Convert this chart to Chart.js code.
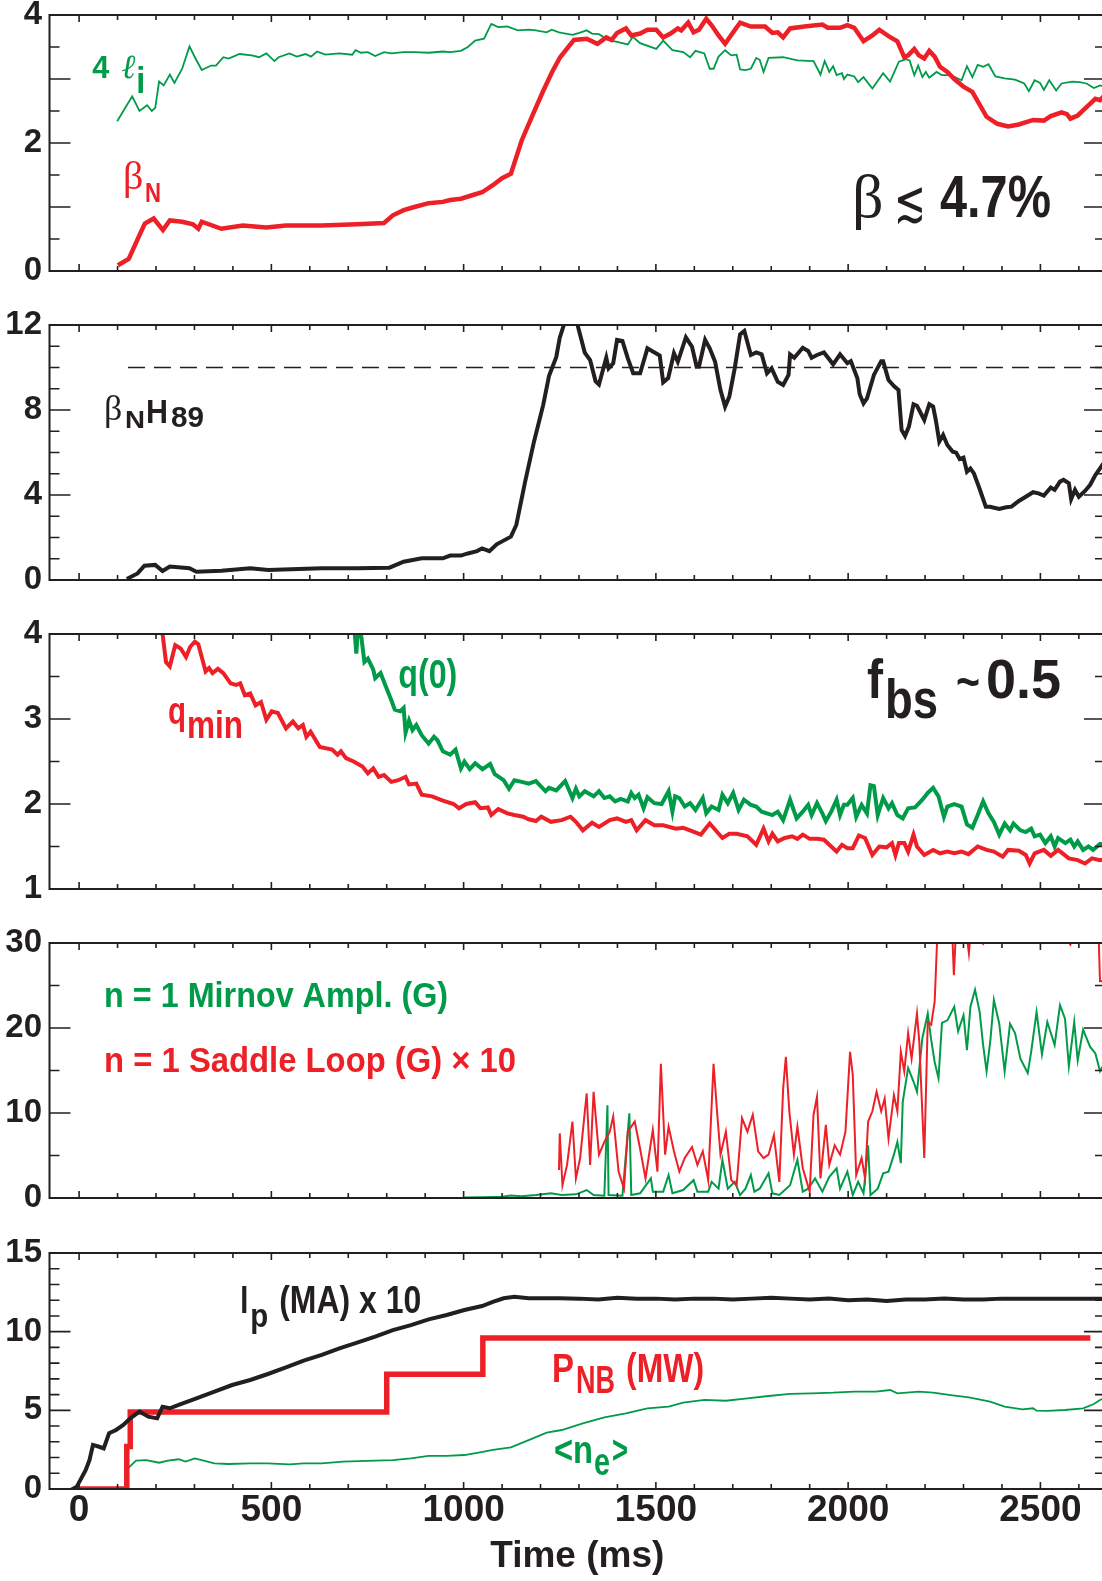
<!DOCTYPE html>
<html>
<head>
<meta charset="utf-8">
<script src="https://cdn.jsdelivr.net/npm/chart.js@4.4.0/dist/chart.umd.min.js"></script>
<style>
html, body { margin: 0; padding: 0; background: #fff; overflow: hidden; }
#wrap { position: relative; width: 1102px; height: 1581px; overflow: hidden; }
#wrap canvas { position: absolute; left: 0; }
</style>
</head>
<body>
<div id="wrap">
  <canvas id="p1" width="1110" height="308" style="top:-11px"></canvas>
  <canvas id="p2" width="1110" height="307" style="top:299px"></canvas>
  <canvas id="p3" width="1110" height="307" style="top:608px"></canvas>
  <canvas id="p4" width="1110" height="307" style="top:917px"></canvas>
  <canvas id="p5" width="1110" height="354" style="top:1227px"></canvas>
</div>
<script>
// time axis (ms)
const XMIN = -77, XMAX = 2668;
const XTICKS = [0, 500, 1000, 1500, 2000, 2500];

// Panel 1: 4 li and beta_N
const li4T = [99,138,157,177,189,198,208,220,236,248,268,287,301,319,343,356,375,389,417,449,468,487,508,519,547,566,589,603,619,640,677,710,719,733,751,770,793,812,844,872,909,946,965,993,1011,1030,1053,1072,1090,1113,1141,1169,1188,1216,1229,1248,1255,1283,1301,1320,1334,1352,1375,1399,1427,1440,1459,1501,1519,1543,1571,1589,1603,1626,1640,1650,1663,1680,1696,1710,1719,1733,1747,1761,1770,1780,1793,1831,1868,1910,1928,1939,1951,1961,1970,1984,1989,1998,2016,2026,2040,2063,2091,2109,2132,2151,2160,2172,2182,2193,2202,2211,2230,2244,2267,2295,2309,2323,2337,2351,2365,2383,2407,2434,2458,2470,2485,2499,2509,2523,2541,2555,2583,2602,2620,2639,2655,2668];
const li4V = [2.34,2.73,2.5,2.59,2.5,2.55,2.96,2.9,3.07,2.94,3.16,3.51,3.34,3.14,3.21,3.21,3.34,3.32,3.39,3.37,3.34,3.4,3.28,3.34,3.4,3.35,3.39,3.35,3.43,3.38,3.4,3.38,3.45,3.41,3.42,3.36,3.42,3.4,3.42,3.42,3.41,3.43,3.42,3.44,3.5,3.6,3.63,3.86,3.81,3.82,3.76,3.77,3.76,3.73,3.77,3.73,3.72,3.69,3.72,3.76,3.71,3.70,3.61,3.58,3.54,3.66,3.56,3.47,3.6,3.45,3.42,3.34,3.44,3.4,3.16,3.16,3.35,3.45,3.37,3.38,3.15,3.14,3.16,3.33,3.3,3.11,3.33,3.34,3.29,3.28,3.07,3.28,3.11,3.2,3.06,3.09,3.0,3.07,3.04,2.95,3.03,2.85,3.09,2.96,3.27,3.31,3.29,3.06,3.21,3.03,3.11,3.02,3.11,3.06,3.06,2.98,3.2,3.03,3.22,3.19,3.23,3.04,3.01,2.99,2.93,2.81,2.98,2.94,2.83,2.98,2.82,2.93,2.96,2.95,2.93,2.86,2.9,2.88];
const betaNT = [101,129,157,171,194,218,236,268,296,310,319,370,426,487,538,631,723,793,816,844,872,909,946,965,993,1020,1048,1076,1100,1123,1151,1179,1206,1230,1251,1287,1320,1348,1371,1385,1399,1422,1436,1459,1478,1501,1519,1538,1557,1566,1584,1598,1612,1631,1645,1663,1680,1701,1719,1747,1784,1803,1817,1831,1849,1886,1933,1947,1979,1998,2016,2040,2063,2081,2105,2128,2146,2156,2172,2184,2198,2211,2225,2239,2258,2276,2300,2323,2360,2388,2416,2444,2481,2509,2527,2555,2569,2578,2597,2611,2629,2643,2655,2668];
const betaNV = [0.09,0.19,0.56,0.74,0.82,0.64,0.79,0.77,0.73,0.66,0.77,0.66,0.71,0.68,0.71,0.71,0.73,0.75,0.87,0.95,1.0,1.06,1.08,1.11,1.13,1.18,1.23,1.34,1.45,1.52,2.04,2.43,2.8,3.11,3.34,3.61,3.63,3.55,3.65,3.61,3.72,3.79,3.68,3.71,3.77,3.77,3.65,3.71,3.79,3.76,3.88,3.73,3.77,3.94,3.84,3.68,3.55,3.73,3.88,3.82,3.82,3.72,3.73,3.65,3.79,3.82,3.85,3.8,3.8,3.84,3.8,3.59,3.68,3.77,3.67,3.59,3.34,3.37,3.47,3.37,3.32,3.44,3.35,3.19,3.11,3.0,2.88,2.8,2.41,2.3,2.26,2.29,2.36,2.35,2.42,2.48,2.45,2.38,2.43,2.51,2.61,2.69,2.67,2.75];

// Panel 2: beta_N H89
const bnhT = [124,152,170,198,217,236,287,305,370,445,492,631,723,807,844,891,946,965,993,1011,1035,1048,1067,1086,1123,1137,1160,1183,1207,1222,1241,1250,1266,1292,1315,1329,1343,1352,1371,1377,1389,1399,1413,1427,1441,1459,1478,1492,1510,1519,1532,1547,1557,1578,1594,1606,1612,1628,1640,1654,1668,1680,1691,1705,1719,1730,1747,1761,1775,1789,1801,1817,1831,1845,1849,1860,1882,1896,1905,1919,1937,1961,1979,1998,2007,2024,2030,2040,2049,2067,2086,2091,2105,2119,2131,2139,2148,2158,2170,2179,2198,2211,2221,2228,2237,2247,2258,2272,2281,2290,2300,2309,2318,2327,2342,2358,2369,2393,2411,2425,2444,2462,2481,2495,2509,2527,2537,2551,2560,2574,2580,2590,2600,2616,2629,2643,2655,2668];
const bnhV = [0.05,0.31,0.67,0.71,0.42,0.63,0.55,0.39,0.44,0.55,0.47,0.55,0.55,0.58,0.86,1.02,1.02,1.15,1.15,1.25,1.36,1.49,1.36,1.68,2.04,2.59,4.63,6.51,8.24,9.6,10.5,11.4,12.3,12.3,10.7,10.35,9.36,9.2,10.46,9.96,10.2,11.3,11.25,10.43,9.73,9.73,10.9,10.75,10.56,9.3,9.5,10.67,10.27,11.42,10.98,10.04,10.04,11.3,10.9,10.27,8.94,8.16,8.63,9.96,11.56,11.72,10.59,10.71,10.62,9.73,9.96,9.33,9.18,9.65,10.62,10.46,10.93,10.78,10.46,10.59,10.71,10.15,10.62,10.2,10.3,9.49,8.74,8.31,8.55,9.65,10.3,10.3,9.41,9.13,8.94,7.06,6.78,7.22,8.27,8.2,7.53,8.27,8.16,7.53,6.51,6.82,6.35,6.04,5.99,5.69,5.76,5.1,5.25,5.02,4.28,3.45,3.45,3.34,3.42,3.45,3.72,3.92,4.13,4.08,3.97,4.35,4.24,4.63,4.71,4.55,3.81,4.24,3.92,4.19,4.47,4.94,5.25,5.6];
const refT = [127, 2668];
const refV = [10, 10];

// Panel 3: q_min and q(0)
const qminT = [214,217,226,236,250,264,278,289,301,310,329,338,347,361,375,394,408,419,431,445,459,473,487,501,517,538,556,570,582,591,602,626,658,672,681,694,714,737,751,765,779,793,812,830,849,858,877,891,918,946,974,988,1007,1030,1044,1063,1072,1090,1114,1132,1155,1169,1188,1202,1227,1255,1278,1292,1310,1334,1352,1380,1399,1422,1436,1450,1473,1496,1519,1552,1571,1589,1617,1640,1673,1691,1710,1738,1761,1780,1793,1803,1817,1835,1854,1868,1882,1900,1919,1937,1956,1970,1984,1998,2012,2028,2044,2063,2081,2100,2114,2123,2132,2146,2156,2170,2179,2198,2221,2239,2258,2276,2295,2313,2337,2360,2379,2402,2416,2444,2462,2472,2485,2509,2527,2546,2574,2597,2616,2634,2655,2668];
const qminV = [4.4,4.0,3.67,3.62,3.87,3.83,3.73,3.85,3.91,3.88,3.56,3.6,3.54,3.59,3.54,3.42,3.4,3.42,3.28,3.3,3.16,3.2,2.99,3.09,3.07,2.89,2.97,2.89,2.93,2.79,2.85,2.67,2.64,2.58,2.62,2.54,2.5,2.44,2.36,2.42,2.32,2.34,2.26,2.28,2.32,2.23,2.24,2.11,2.09,2.04,2.0,1.95,2.0,2.02,1.95,1.96,1.87,1.94,1.89,1.87,1.85,1.82,1.8,1.85,1.79,1.81,1.85,1.79,1.69,1.78,1.73,1.81,1.83,1.79,1.81,1.69,1.81,1.75,1.75,1.71,1.72,1.69,1.64,1.77,1.6,1.65,1.65,1.62,1.52,1.71,1.56,1.65,1.56,1.6,1.62,1.59,1.64,1.59,1.59,1.58,1.5,1.44,1.52,1.48,1.48,1.63,1.6,1.4,1.5,1.49,1.54,1.4,1.54,1.54,1.44,1.64,1.5,1.4,1.46,1.42,1.44,1.42,1.44,1.41,1.5,1.46,1.44,1.38,1.46,1.45,1.4,1.3,1.42,1.46,1.39,1.46,1.36,1.34,1.3,1.36,1.34,1.35];
const q0T = [712,721,728,733,742,751,765,770,784,798,812,821,835,844,849,858,867,877,891,909,923,932,946,965,979,993,1002,1016,1030,1049,1069,1081,1104,1118,1132,1151,1169,1188,1213,1222,1241,1264,1283,1292,1301,1315,1338,1352,1366,1380,1394,1408,1427,1436,1445,1455,1468,1478,1496,1515,1533,1543,1550,1561,1575,1589,1603,1622,1631,1645,1663,1673,1687,1701,1715,1729,1747,1761,1775,1803,1817,1831,1840,1849,1866,1882,1896,1905,1919,1933,1942,1956,1970,1979,1989,1998,2012,2021,2035,2049,2058,2067,2077,2091,2105,2114,2128,2142,2156,2174,2193,2207,2221,2235,2249,2258,2276,2295,2309,2323,2337,2351,2365,2379,2393,2407,2421,2430,2448,2462,2476,2485,2499,2513,2527,2537,2546,2565,2578,2588,2597,2611,2625,2637,2655,2668];
const q0V = [4.3,3.77,4.3,4.0,3.67,3.71,3.58,3.48,3.54,3.38,3.22,3.11,3.09,3.13,2.84,2.98,2.87,2.93,2.81,2.71,2.79,2.75,2.62,2.58,2.64,2.42,2.5,2.41,2.48,2.41,2.47,2.35,2.28,2.18,2.28,2.26,2.24,2.27,2.15,2.19,2.16,2.27,2.07,2.18,2.09,2.15,2.09,2.15,2.07,2.09,2.03,2.06,2.03,2.13,2.07,2.11,1.95,2.08,2.01,2.0,2.15,1.91,2.09,2.07,1.97,2.01,1.93,2.07,1.89,1.97,1.93,2.11,2.01,2.13,1.93,2.05,1.99,1.97,1.91,1.87,1.91,1.81,1.93,2.05,1.83,1.91,1.99,1.87,2.01,1.89,1.8,1.91,2.05,1.87,1.99,1.99,2.07,1.85,1.99,1.89,2.22,2.21,1.87,2.07,1.95,2.01,1.87,1.83,1.95,1.96,2.05,2.13,2.19,2.09,1.85,1.97,2.0,1.97,1.76,1.72,1.87,2.03,1.89,1.79,1.64,1.77,1.69,1.77,1.69,1.67,1.71,1.62,1.64,1.54,1.62,1.5,1.6,1.54,1.58,1.5,1.56,1.46,1.5,1.46,1.53,1.52];

// Panel 4: n=1 Mirnov amplitude and saddle loop x10 (G)
const mirT = [1002,1050,1100,1123,1150,1188,1227,1255,1292,1320,1338,1366,1374,1377,1413,1431,1436,1459,1487,1492,1519,1533,1543,1571,1598,1608,1636,1645,1663,1673,1687,1705,1719,1733,1747,1756,1770,1793,1803,1821,1849,1868,1882,1896,1914,1933,1951,1970,1979,1998,2012,2026,2040,2052,2058,2077,2091,2105,2119,2128,2137,2142,2156,2170,2179,2193,2207,2216,2225,2235,2244,2258,2276,2286,2300,2309,2318,2330,2342,2351,2360,2370,2379,2393,2407,2421,2434,2448,2467,2476,2490,2504,2518,2537,2551,2564,2574,2588,2597,2611,2629,2643,2655,2668];
const mirV = [0.05,0.1,0.15,0.3,0.2,0.35,0.55,0.35,0.43,0.94,0.35,0.27,10.9,0.35,0.27,9.96,0.35,0.55,2.3,0.75,0.75,2.7,0.55,0.94,2.1,0.75,0.75,1.9,1.1,4.5,1.1,1.9,0.35,1.1,2.7,0.75,1.1,2.9,0.55,0.35,1.5,4.5,0.75,1.1,2.3,0.75,2.5,3.5,1.1,3.1,0.35,1.9,0.55,6.2,0.35,1.1,2.9,3.1,5.1,6.6,4.1,11.3,15.3,13.7,12.5,18.8,21.7,18.6,16.0,14.1,20.6,20.9,22.5,19.6,21.5,17.4,22.5,24.5,21.9,18.0,14.9,18.6,23.3,20.5,14.9,20.5,19.4,16.4,14.7,17.2,21.9,16.9,20.7,18.0,22.7,21.1,15.5,20.7,16.2,19.8,17.8,17.0,14.9,16.0];
const sadT = [1248,1250,1257,1269,1283,1292,1303,1320,1329,1338,1352,1366,1380,1389,1403,1417,1427,1445,1459,1473,1492,1504,1513,1524,1533,1547,1561,1575,1594,1608,1622,1636,1650,1659,1668,1682,1696,1710,1724,1738,1752,1766,1780,1793,1807,1821,1831,1838,1847,1859,1868,1882,1900,1910,1919,1928,1942,1951,1965,1979,1993,2005,2012,2021,2035,2044,2052,2063,2074,2086,2095,2105,2119,2128,2137,2146,2156,2165,2179,2185,2198,2207,2216,2225,2232,2250,2270,2275,2281,2300,2314,2320,2351,2400,2500,2578,2600,2650,2655,2668];
const sadV = [3.3,7.6,1.5,3.9,9.0,2.3,4.7,12.3,3.9,12.5,5.1,6.6,7.8,9.6,3.1,1.1,7.8,9.0,5.8,2.3,8.0,3.1,15.8,5.1,8.4,5.5,3.1,4.7,6.0,3.9,5.5,2.1,15.8,10.2,5.1,7.8,2.1,1.5,9.4,7.8,9.8,5.5,4.7,5.1,7.4,1.9,12.9,16.6,10.2,5.1,8.4,3.5,0.75,9.8,11.9,2.3,8.6,3.9,6.2,5.1,7.8,17.2,14.5,2.7,4.7,2.3,9.0,10.2,12.5,10.2,11.7,7.0,12.1,10.2,17.2,14.9,19.4,16.4,21.7,18.4,4.7,20.7,20.4,23.1,31,34,32,26.2,32,34,28.8,32,29.9,34,34,29.8,34,33,25.5,25.5];

// Panel 5: Ip x10, P_NB, <ne>
const ipT = [-24,-6,17,27,36,50,64,78,96,115,133,157,180,203,217,236,259,305,352,398,445,491,538,584,631,677,723,770,816,863,909,956,1002,1048,1076,1104,1132,1169,1206,1251,1300,1350,1400,1450,1500,1550,1600,1650,1700,1750,1800,1850,1900,1950,2000,2050,2100,2150,2200,2250,2300,2350,2400,2450,2500,2550,2600,2668];
const ipV = [-0.1,0.15,1.2,1.84,2.8,2.7,2.58,3.54,3.75,4.07,4.49,4.92,4.6,4.49,5.23,5.13,5.34,5.76,6.19,6.61,6.93,7.31,7.73,8.16,8.52,8.94,9.3,9.68,10.1,10.42,10.78,11.06,11.38,11.63,11.9,12.12,12.22,12.12,12.12,12.12,12.1,12.05,12.15,12.1,12.1,12.05,12.1,12.1,12.05,12.1,12.15,12.1,12.05,12.1,12.0,12.05,11.95,12.05,12.05,12.1,12.05,12.05,12.1,12.1,12.1,12.1,12.1,12.1];
const pnbT = [0,124,133,800,1050,2630];
const pnbV = [0,2.7,4.9,7.3,9.6,9.6];
const neT = [127,148,175,208,231,259,277,301,324,352,389,445,491,547,584,631,686,770,816,863,909,956,1002,1039,1076,1123,1169,1216,1255,1310,1366,1422,1478,1533,1571,1626,1682,1738,1793,1849,1905,1961,2016,2072,2109,2128,2184,2221,2267,2314,2369,2407,2453,2481,2490,2518,2564,2611,2639,2655,2668];
const neV = [1.31,1.8,1.84,1.67,1.8,1.89,1.74,1.95,1.8,1.63,1.59,1.63,1.63,1.57,1.63,1.63,1.74,1.8,1.84,1.95,2.1,2.1,2.16,2.31,2.48,2.65,3.11,3.58,3.75,4.17,4.55,4.81,5.13,5.23,5.49,5.66,5.61,5.76,5.91,6.04,6.08,6.12,6.19,6.19,6.29,6.08,6.19,6.12,5.97,5.83,5.55,5.23,5.06,5.13,4.98,4.96,5.02,5.13,5.4,5.66,5.8];

const RED = 'rgb(237,32,39)';
const GREEN = 'rgb(0,155,72)';
const INK = 'rgb(35,31,32)';
const SANS = "'Liberation Sans', Arial, sans-serif";
const SERIF = "'Liberation Serif', 'DejaVu Serif', serif";
const SYM = "'DejaVu Sans', sans-serif";
const PAD = 26;

function pts(ts, vs) {
    return ts.map((t, i) => ({x: t, y: vs[i]}));
}

function trace(ts, vs, color, width, extra) {
    return Object.assign({
        data: pts(ts, vs),
        borderColor: color,
        borderWidth: width,
        pointRadius: 0,
        tension: 0,
        fill: false,
        clip: 0,
    }, extra || {});
}

// box round each panel, ticks pointing inward
function framePlugin(minor, major) {
    return {
        id: 'frame',
        afterDatasetsDraw(chart) {
            const {ctx, chartArea: a, scales: {x, y}} = chart;
            ctx.save();
            ctx.strokeStyle = INK;
            ctx.lineWidth = 2;
            ctx.strokeRect(a.left, a.top, a.right - a.left, a.bottom - a.top);
            ctx.lineWidth = 1.6;
            ctx.beginPath();
            for (let t = 0; t <= x.max; t += 100) {
                const px = x.getPixelForValue(t);
                const len = t % 500 === 0 ? 7 : 5;
                ctx.moveTo(px, a.top); ctx.lineTo(px, a.top + len);
                ctx.moveTo(px, a.bottom); ctx.lineTo(px, a.bottom - len);
            }
            for (let v = y.min; v <= y.max + 1e-9; v += minor) {
                const py = y.getPixelForValue(v);
                const r = v / major;
                const len = Math.abs(r - Math.round(r)) < 1e-6 ? 21 : 10;
                ctx.moveTo(a.left, py); ctx.lineTo(a.left + len, py);
                ctx.moveTo(a.right, py); ctx.lineTo(a.right - len, py);
            }
            ctx.stroke();
            ctx.restore();
        }
    };
}

// labels inside the panels, anchored in data coordinates
// (the original uses a condensed face, so the sans text is squeezed horizontally)
function notesPlugin(notes) {
    return {
        id: 'notes',
        afterDatasetsDraw(chart) {
            const {ctx, scales: {x, y}} = chart;
            ctx.save();
            ctx.textAlign = 'left';
            ctx.textBaseline = 'alphabetic';
            notes.forEach(n => {
                const x0 = x.getPixelForValue(n.t);
                const y0 = y.getPixelForValue(n.v);
                ctx.fillStyle = n.color;
                n.parts.forEach(p => {
                    const fam = p.family || SANS;
                    ctx.font = (p.style || 'normal') + ' ' + (p.weight || 'bold') + ' ' + p.size + 'px ' + fam;
                    const k = p.w ? p.w / ctx.measureText(p.s).width : (p.family ? 1 : 0.85);
                    ctx.save();
                    ctx.translate(x0 + (p.dx || 0), y0 + (p.dy || 0));
                    ctx.scale(k, 1);
                    ctx.fillText(p.s, 0, 0);
                    ctx.restore();
                });
            });
            ctx.restore();
        }
    };
}

function makePanel(id, datasets, yMin, yMax, yStep, minor, major, notes, bottom) {
    const xAxis = bottom ? {
        type: 'linear', min: XMIN, max: XMAX,
        afterFit: s => { s.height = 92; },
        afterBuildTicks: s => { s.ticks = XTICKS.map(v => ({value: v})); },
        grid: {display: false, drawTicks: false},
        border: {display: false},
        ticks: {autoSkip: false, maxRotation: 0, padding: 3, color: INK,
                callback: v => String(v),
                font: {family: SANS, size: 37, weight: 'bold', lineHeight: 1}},
        title: {display: true, text: 'Time (ms)', color: INK, padding: {top: 0, bottom: 2},
                font: {family: SANS, size: 37, weight: 'bold', lineHeight: 1.2}},
    } : {type: 'linear', min: XMIN, max: XMAX, display: false};

    return new Chart(document.getElementById(id), {
        type: 'line',
        data: {datasets: datasets},
        options: {
            responsive: false,
            animation: false,
            events: [],
            layout: {padding: {top: PAD, bottom: bottom ? 0 : PAD, left: 0, right: 5}},
            plugins: {legend: {display: false}, tooltip: {enabled: false}},
            scales: {
                x: xAxis,
                y: {
                    type: 'linear', min: yMin, max: yMax,
                    afterFit: s => { s.width = 49.5; },
                    grid: {display: false, drawTicks: false},
                    border: {display: false},
                    ticks: {stepSize: yStep, padding: 7.5, color: INK,
                            font: {family: SANS, size: 33, weight: 'bold', lineHeight: 1}},
                },
            },
        },
        plugins: [framePlugin(minor, major), notesPlugin(notes)],
    });
}

makePanel('p1', [
    trace(betaNT, betaNV, RED, 4.5),
    trace(li4T, li4V, GREEN, 1.8),
], 0, 4, 2, 0.5, 1, [
    {t: 34, v: 3.02, color: GREEN, parts: [
        {s: '4', size: 32, w: 17},
        {s: 'ℓ', dx: 29, size: 34, weight: 'normal', style: 'italic', family: SERIF},
        {s: 'i', dx: 44, dy: 15, size: 36, w: 9},
    ]},
    {t: 114, v: 1.28, color: RED, parts: [
        {s: 'β', size: 40, weight: 'normal', family: SERIF},
        {s: 'N', dx: 22, dy: 13, size: 28, w: 16},
    ]},
    {t: 2010, v: 0.84, color: INK, parts: [
        {s: 'β', size: 62, weight: 'normal', family: SERIF},
        {s: '≲', dx: 42, dy: 4, size: 58, w: 32, weight: 'normal', family: SYM},
        {s: '4.7%', dx: 88, size: 60, w: 111},
    ]},
]);

makePanel('p2', [
    trace(bnhT, bnhV, INK, 4),
    trace(refT, refV, INK, 1.5, {borderDash: [17, 9]}),
], 0, 12, 4, 1, 4, [
    {t: 65, v: 7.39, color: INK, parts: [
        {s: 'β', dy: -3, size: 36, weight: 'normal', family: SERIF},
        {s: 'N', dx: 21, dy: 5, size: 23, w: 20},
        {s: 'H', dx: 42, size: 34, w: 22},
        {s: '89', dx: 67, dy: 4, size: 30, w: 33},
    ]},
]);

makePanel('p3', [
    trace(qminT, qminV, RED, 4),
    trace(q0T, q0V, GREEN, 4),
], 1, 4, 1, 0.5, 1, [
    {t: 830, v: 3.365, color: GREEN, parts: [{s: 'q(0)', size: 40, w: 59}]},
    {t: 231, v: 2.94, color: RED, parts: [
        {s: 'q', size: 38, w: 18},
        {s: 'min', dx: 19, dy: 14, size: 38, w: 56},
    ]},
    {t: 2049, v: 3.247, color: INK, parts: [
        {s: 'f', size: 55, w: 16},
        {s: 'bs', dx: 18, dy: 20, size: 55, w: 53},
        {s: '~', dx: 89, size: 48, w: 24},
        {s: '0.5', dx: 119, size: 56, w: 75},
    ]},
]);

makePanel('p4', [
    trace(sadT, sadV, RED, 2),
    trace(mirT, mirV, GREEN, 2),
], 0, 30, 10, 5, 10, [
    {t: 65, v: 22.47, color: GREEN, parts: [{s: 'n = 1 Mirnov Ampl. (G)', size: 35, w: 344}]},
    {t: 65, v: 14.82, color: RED, parts: [{s: 'n = 1 Saddle Loop (G) × 10', size: 35, w: 412}]},
]);

makePanel('p5', [
    trace(ipT, ipV, INK, 4),
    trace(pnbT, pnbV, RED, 5.5, {stepped: true}),
    trace(neT, neV, GREEN, 1.8),
], 0, 15, 5, 1, 5, [
    {t: 419, v: 11.19, color: INK, parts: [
        {s: 'I', size: 38, w: 8},
        {s: 'p', dx: 10, dy: 14, size: 34, w: 18},
        {s: '(MA) x 10', dx: 39, size: 38, w: 142},
    ]},
    {t: 1230, v: 6.8, color: RED, parts: [
        {s: 'P', size: 40, w: 22},
        {s: 'NB', dx: 24, dy: 11, size: 38, w: 39},
        {s: '(MW)', dx: 74, size: 40, w: 78},
    ]},
    {t: 1235, v: 1.65, color: GREEN, parts: [
        {s: '<n', size: 38, w: 39},
        {s: 'e', dx: 40, dy: 12, size: 38, w: 16},
        {s: '>', dx: 58, size: 38, w: 16},
    ]},
], true);
</script>
</body>
</html>
